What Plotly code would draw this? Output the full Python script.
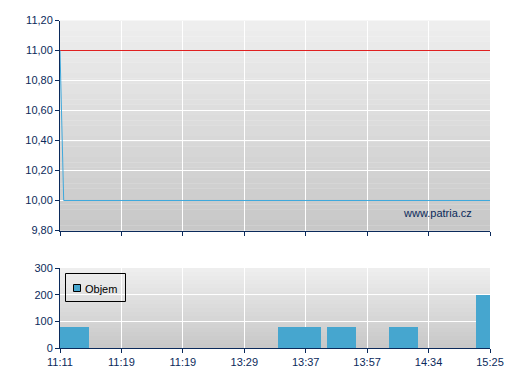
import plotly.graph_objects as go

# ---- data ----
tick_labels = ["11:11", "11:19", "11:19", "13:29", "13:37", "13:57", "14:34", "15:25"]
tick_pos = list(range(len(tick_labels)))

price_x = [0.0, 0.06, 7.0]
price_y = [11.0, 10.0, 10.0]

prev_close = 11.0

vol_start = [0.0, 3.55, 4.35, 5.36, 6.77]
vol_end = [0.47, 4.25, 4.82, 5.83, 7.23]
vol_values = [80, 80, 80, 80, 200]

# ---- styles ----
NAVY = "#0b2a5b"
LINE_BLUE = "#3fa9dc"
BAR_BLUE = "#46a6cf"
RED = "#e02020"
FONT = "Liberation Sans, Arial, sans-serif"

W, H = 507, 380
ML, MR, MT, MB = 60, 17, 20, 32
PW = W - ML - MR
ph = H - MT - MB
top_dom = [(348 - 230 - 0.5) / ph, 1.0 - 0.5 / ph]
bot_dom = [0.0, 80 / ph]

def px_x(px):
    return (px - ML) / PW

def px_y(py):
    return (H - MB - py) / ph

fig = go.Figure()

fig.add_trace(go.Scatter(
    x=[tick_pos[0], tick_pos[-1]], y=[prev_close, prev_close],
    mode="lines", line=dict(color=RED, width=1), showlegend=False,
    xaxis="x", yaxis="y", hoverinfo="skip"))

fig.add_trace(go.Scatter(
    x=price_x, y=price_y, mode="lines",
    line=dict(color=LINE_BLUE, width=1), showlegend=False,
    xaxis="x", yaxis="y"))

vx = [(s + e) / 2 for s, e in zip(vol_start, vol_end)]
vw = [e - s for s, e in zip(vol_start, vol_end)]
fig.add_trace(go.Bar(
    x=vx, y=vol_values, width=vw, name="Objem",
    marker=dict(color=BAR_BLUE, line=dict(width=0)),
    showlegend=False, xaxis="x2", yaxis="y2"))

# gradient backgrounds
shapes = []
N = 40
def lerp(a, b, t):
    return int(round(a + (b - a) * t))
for yref in ["y domain", "y2 domain"]:
    xr = "x domain" if yref == "y domain" else "x2 domain"
    for i in range(N):
        t = (i + 0.5) / N
        c = lerp(0xef, 0xc7, t)
        shapes.append(dict(
            type="rect", xref=xr, yref=yref,
            x0=0, x1=1, y0=1 - (i + 1) / N - 0.001, y1=1 - i / N,
            fillcolor=f"rgb({c},{c},{c})", line=dict(width=0), layer="below"))

# manual legend box
shapes.append(dict(type="rect", xref="paper", yref="paper",
                   x0=px_x(65.5), x1=px_x(125.5), y0=px_y(301.5), y1=px_y(273.5),
                   line=dict(color="black", width=1), fillcolor="rgba(0,0,0,0)",
                   layer="above"))
shapes.append(dict(type="rect", xref="paper", yref="paper",
                   x0=px_x(73.5), x1=px_x(80.5), y0=px_y(291.5), y1=px_y(284.5),
                   line=dict(color="black", width=1), fillcolor=BAR_BLUE,
                   layer="above"))

axis_common = dict(
    showgrid=True, gridcolor="white", gridwidth=1,
    showline=True, linecolor=NAVY, linewidth=1,
    ticks="outside", ticklen=4, tickcolor=NAVY, tickwidth=1,
    tickfont=dict(family=FONT, size=11, color=NAVY),
    zeroline=False, fixedrange=True, automargin=False)

fig.update_layout(
    width=W, height=H,
    margin=dict(l=ML, r=MR, t=MT, b=MB, autoexpand=False),
    paper_bgcolor="white", plot_bgcolor="rgba(0,0,0,0)",
    separators=",.",
    font=dict(family=FONT, size=11, color=NAVY),
    shapes=shapes,
    bargap=0,
    showlegend=False,
    xaxis=dict(domain=[0, 1], range=[0, 7], tickvals=tick_pos,
               showticklabels=False, anchor="y", **axis_common),
    yaxis=dict(domain=top_dom, range=[9.8, 11.2], dtick=0.2, tick0=9.8,
               tickformat=".2f", anchor="x", **axis_common),
    xaxis2=dict(domain=[0, 1], range=[0, 7], tickvals=tick_pos,
                ticktext=tick_labels, anchor="y2", **axis_common),
    yaxis2=dict(domain=bot_dom, range=[0, 300], dtick=100,
                anchor="x2", **axis_common),
    annotations=[
        dict(text="www.patria.cz", xref="paper", yref="paper",
             x=px_x(474), y=px_y(213), xanchor="right", yanchor="middle",
             showarrow=False, font=dict(family=FONT, size=11, color=NAVY)),
        dict(text="Objem", xref="paper", yref="paper",
             x=px_x(83), y=px_y(288.5), xanchor="left", yanchor="middle",
             showarrow=False, font=dict(family=FONT, size=11, color="black")),
    ],
)

fig.write_html("out.html")
